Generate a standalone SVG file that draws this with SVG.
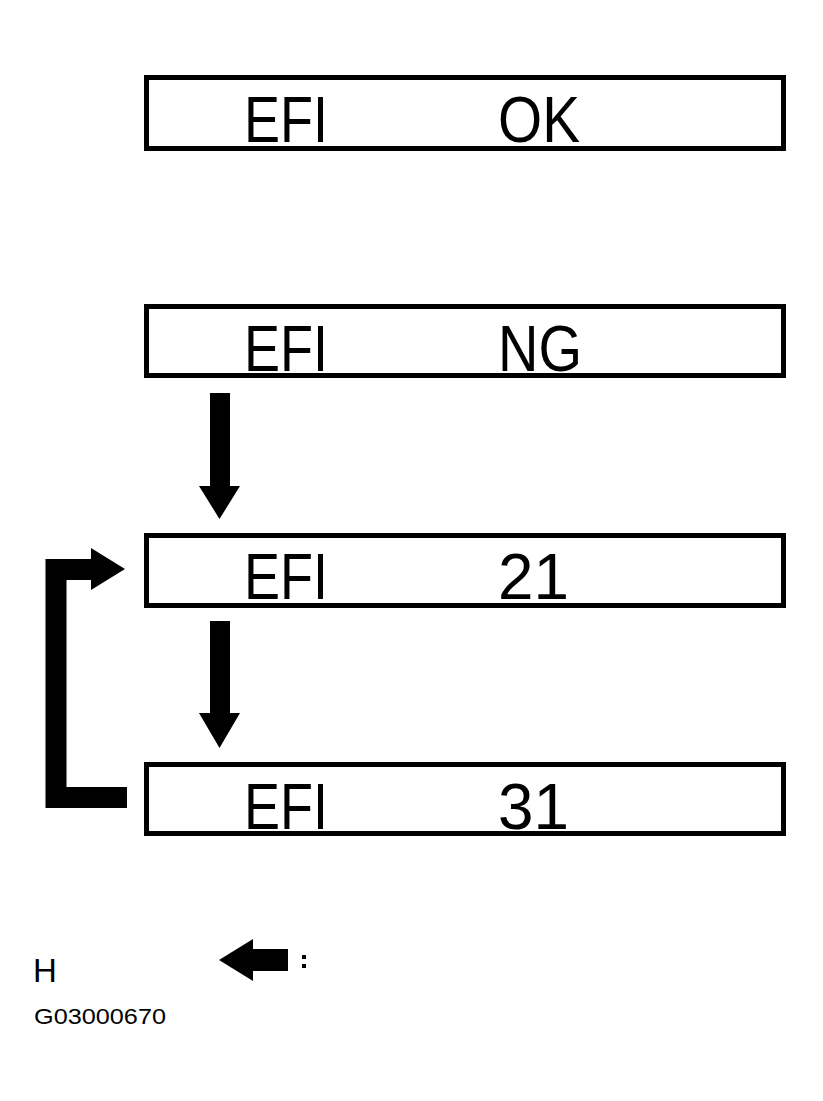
<svg xmlns="http://www.w3.org/2000/svg" width="823" height="1101" viewBox="0 0 823 1101">
<style>
.box{fill:#fff;stroke:#000;stroke-width:5}
.lcd{font-family:"Liberation Sans",Arial,sans-serif;font-size:65px;fill:#000}
.lbl{font-family:"Liberation Sans",Arial,sans-serif;fill:#000}
</style>
<rect width="823" height="1101" fill="#fff"/>
<g id="node-ok">
<rect class="box" x="146.5" y="77.5" width="637" height="71"/>
<text class="lcd" x="244" y="142" textLength="84" lengthAdjust="spacingAndGlyphs">EFI</text>
<text class="lcd" x="498" y="142" textLength="82" lengthAdjust="spacingAndGlyphs">OK</text>
</g>
<g id="node-ng">
<rect class="box" x="146.5" y="306.5" width="637" height="69"/>
<text class="lcd" x="244" y="371" textLength="84" lengthAdjust="spacingAndGlyphs">EFI</text>
<text class="lcd" x="498" y="371" textLength="84" lengthAdjust="spacingAndGlyphs">NG</text>
</g>
<g id="node-21">
<rect class="box" x="146.5" y="535.5" width="637" height="70"/>
<text class="lcd" x="244" y="599" textLength="84" lengthAdjust="spacingAndGlyphs">EFI</text>
<text class="lcd" x="498" y="599" textLength="71" lengthAdjust="spacingAndGlyphs">21</text>
</g>
<g id="node-31">
<rect class="box" x="146.5" y="764.5" width="637" height="69"/>
<text class="lcd" x="244" y="829" textLength="84" lengthAdjust="spacingAndGlyphs">EFI</text>
<text class="lcd" x="498" y="829" textLength="71" lengthAdjust="spacingAndGlyphs">31</text>
</g>
<g id="connectors">
<polygon points="210,393 230,393 230,486 240,486 219.5,519 199,486 210,486"/>
<polygon points="210,621 230,621 230,713 240,713 219.5,748 199,713 210,713"/>
<polyline points="127,797.5 56,797.5 56,569.5 92,569.5" fill="none" stroke="#000" stroke-width="21"/>
<polygon points="91,548 125,569 91,590"/>
</g>
<g id="legend">
<text class="lbl" x="33" y="982" font-size="33">H</text>
<polygon points="219,960 253,939 253,949 288,949 288,971 253,971 253,981"/>
<rect x="302" y="955" width="4" height="4"/>
<rect x="302" y="964" width="4" height="4"/>
<text class="lbl" x="34" y="1024" font-size="22" textLength="132" lengthAdjust="spacingAndGlyphs">G03000670</text>
</g>
</svg>
